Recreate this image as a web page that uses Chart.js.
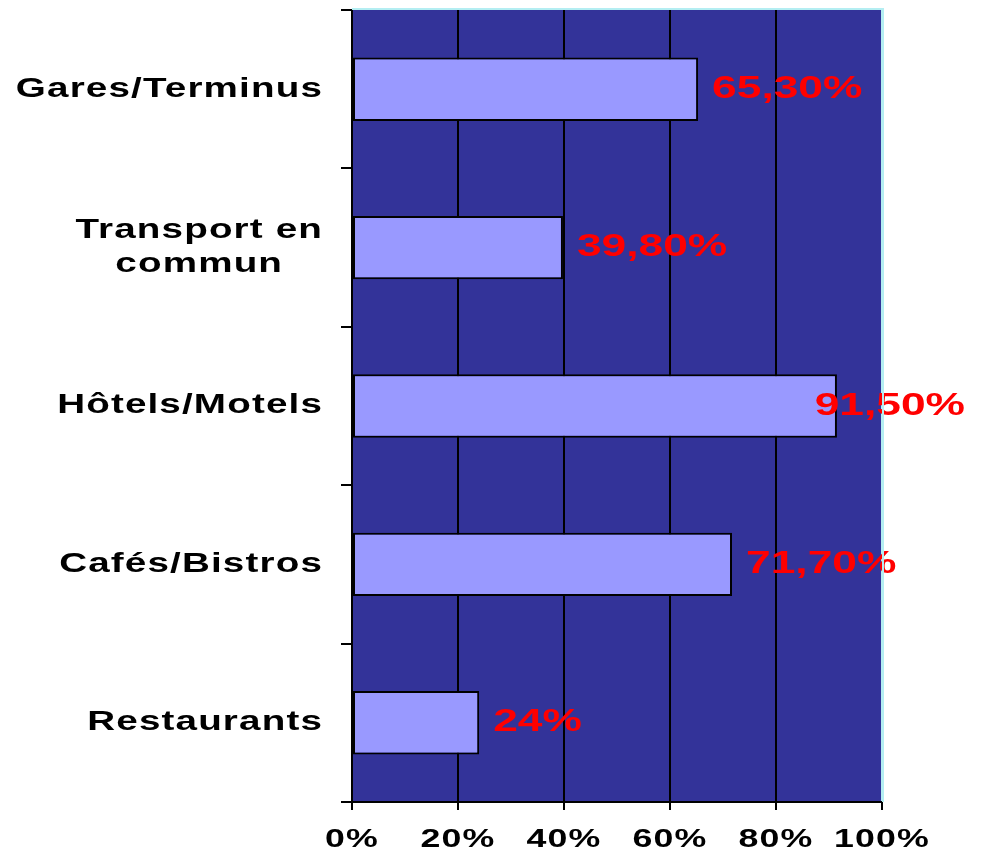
<!DOCTYPE html>
<html>
<head>
<meta charset="utf-8">
<title>Lieux</title>
<script src="https://cdn.jsdelivr.net/npm/chart.js@4"></script>
<style>
    body { margin: 0; background: #ffffff; }
    #contenedor { width: 981px; height: 851px; }
</style>
</head>
<body>
<div id="contenedor">
    <canvas id="grafico" width="981" height="851"></canvas>
</div>
<script>
// Datos del grafico
const categorias = ['Gares/Terminus', ['Transport en', 'commun'], 'Hôtels/Motels', 'Cafés/Bistros', 'Restaurants'];
const valores = [65.3, 39.8, 91.5, 71.7, 24];
const ticksX = [0, 20, 40, 60, 80, 100];

const fuente = "'Liberation Sans', Arial, sans-serif";
const estiramiento = 1.43; // el texto del original esta estirado a lo ancho

function formatoPorcentaje(v) {
    if (Number.isInteger(v)) return v + '%';
    return v.toFixed(2).replace('.', ',') + '%';
}

// Texto ensanchado: se escala en x alrededor del punto de anclaje
const textoAnchoPlugin = {
    id: 'textoAncho',
    beforeInit(chart) {
        const ctx = chart.ctx;
        const fillOriginal = ctx.fillText.bind(ctx);
        const measureOriginal = ctx.measureText.bind(ctx);
        ctx.fillText = function (texto, x, y) {
            ctx.save();
            ctx.translate(x, y);
            ctx.scale(estiramiento, 1);
            fillOriginal(texto, 0, 0);
            ctx.restore();
        };
        ctx.measureText = function (texto) {
            const m = measureOriginal(texto);
            return { width: m.width * estiramiento, actualBoundingBoxAscent: m.actualBoundingBoxAscent, actualBoundingBoxDescent: m.actualBoundingBoxDescent };
        };
    }
};

// Fondo azul del area y bordes claros arriba/derecha
const fondoPlugin = {
    id: 'fondo',
    beforeDraw(chart) {
        const { ctx, chartArea } = chart;
        ctx.letterSpacing = '0.8px';

        // etiquetas de varias lineas: lineas centradas entre ellas
        const escalaY = chart.scales.y;
        const items = escalaY._computeLabelItems(chartArea);
        items.forEach(item => {
            if (Array.isArray(item.label)) {
                ctx.save();
                ctx.font = item.font.string;
                const ancho = Math.max(...item.label.map(l => ctx.measureText(l).width));
                ctx.restore();
                item.options.textAlign = 'center';
                item.options.translation[0] -= ancho / 2;
            }
        });
        escalaY._labelItems = items;

        ctx.save();
        ctx.fillStyle = '#333399';
        ctx.fillRect(chartArea.left, chartArea.top, chartArea.right - chartArea.left, chartArea.bottom - chartArea.top);
        ctx.restore();
    },
    afterDraw(chart) {
        const { ctx, chartArea } = chart;
        ctx.save();
        ctx.strokeStyle = '#b4eef2';
        ctx.lineWidth = 2;
        ctx.beginPath();
        ctx.moveTo(chartArea.left, chartArea.top - 1);
        ctx.lineTo(chartArea.right + 1, chartArea.top - 1);
        ctx.lineTo(chartArea.right + 1, chartArea.bottom);
        ctx.stroke();
        ctx.restore();
    }
};

// Etiquetas rojas al final de cada barra
const etiquetasPlugin = {
    id: 'etiquetas',
    afterDatasetsDraw(chart) {
        const ctx = chart.ctx;
        const meta = chart.getDatasetMeta(0);
        ctx.save();
        ctx.letterSpacing = '0px';
        ctx.font = 'bold 31px ' + fuente;
        ctx.fillStyle = '#ff0000';
        ctx.textAlign = 'left';
        ctx.textBaseline = 'middle';
        meta.data.forEach((barra, i) => {
            const texto = formatoPorcentaje(valores[i]);
            const ancho = ctx.measureText(texto).width;
            let x = barra.x + 14;
            if (x + ancho > chart.width - 16) {
                x = chart.width - 16 - ancho;
            }
            ctx.fillText(texto, x, barra.y);
        });
        ctx.restore();
    }
};

const context = document.getElementById('grafico').getContext('2d');

const grafico = new Chart(context, {
    type: 'bar',
    data: {
        labels: categorias,
        datasets: [{
            data: valores,
            backgroundColor: '#9999ff',
            borderColor: '#000000',
            borderWidth: 2,
            borderSkipped: false,
            barPercentage: 0.4,
            categoryPercentage: 1
        }]
    },
    options: {
        indexAxis: 'y',
        responsive: false,
        animation: false,
        events: [],
        layout: {
            padding: { top: 10, right: 99, bottom: 0, left: 0 }
        },
        plugins: {
            legend: { display: false },
            tooltip: { enabled: false }
        },
        scales: {
            x: {
                min: 0,
                max: 100,
                afterBuildTicks(scale) {
                    scale.ticks = ticksX.map(v => ({ value: v }));
                },
                afterFit(scale) {
                    scale.height = 49;
                    scale.paddingLeft = 0;
                    scale.paddingRight = 0;
                },
                grid: {
                    color: c => (c.tick && c.tick.value === 100) ? '#b4eef2' : '#000000',
                    tickColor: '#000000',
                    lineWidth: 2,
                    tickLength: 8
                },
                border: { color: '#000000', width: 2 },
                ticks: {
                    autoSkip: false,
                    maxRotation: 0,
                    padding: 15,
                    color: '#000000',
                    font: { family: fuente, size: 25, weight: 'bold' },
                    callback: v => v + '%'
                }
            },
            y: {
                afterFit(scale) {
                    scale.width = 352;
                    scale.paddingTop = 0;
                    scale.paddingBottom = 0;
                },
                grid: {
                    offset: true,
                    drawOnChartArea: false,
                    drawTicks: true,
                    tickLength: 11,
                    color: '#000000',
                    lineWidth: 2
                },
                border: { color: '#000000', width: 2 },
                ticks: {
                    padding: 18,
                    color: '#000000',
                    font: { family: fuente, size: 27, weight: 'bold', lineHeight: 1.25 }
                }
            }
        }
    },
    plugins: [textoAnchoPlugin, fondoPlugin, etiquetasPlugin]
});
</script>
</body>
</html>
